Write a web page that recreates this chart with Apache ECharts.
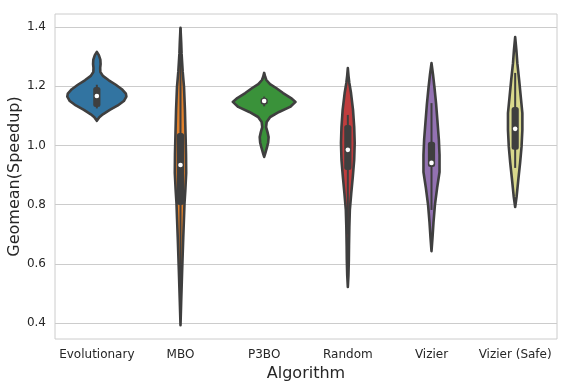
<!DOCTYPE html>
<html><head><meta charset="utf-8">
<script src="https://cdn.jsdelivr.net/npm/echarts@6/dist/echarts.min.js"></script>
<style>html,body{margin:0;padding:0;background:#fff}#c{width:570px;height:388px}</style>
</head><body><div id="c"></div>
<script>
const categories = ['Evolutionary', 'MBO', 'P3BO', 'Random', 'Vizier', 'Vizier (Safe)'];
const yTicks = [0.4, 0.6, 0.8, 1.0, 1.2, 1.4];

// Violin density profiles: [value, half-width as fraction of category band]
const evolutionaryViolin = [[1.316,0],[1.305,0.024],[1.290,0.042],[1.275,0.045],[1.262,0.040],[1.248,0.042],[1.235,0.072],[1.220,0.143],[1.205,0.227],[1.190,0.299],[1.175,0.347],[1.165,0.353],[1.150,0.323],[1.135,0.251],[1.120,0.155],[1.105,0.072],[1.095,0.030],[1.083,0]];
const mboViolin = [[1.397,0],[1.35,0.008],[1.31,0.013],[1.25,0.026],[1.197,0.042],[1.12,0.053],[1.04,0.060],[0.97,0.066],[0.907,0.068],[0.85,0.058],[0.805,0.048],[0.75,0.041],[0.69,0.033],[0.58,0.020],[0.47,0.008],[0.393,0]];
const p3boViolin = [[1.245,0],[1.232,0.012],[1.221,0.026],[1.207,0.070],[1.194,0.143],[1.177,0.226],[1.160,0.321],[1.147,0.375],[1.130,0.310],[1.113,0.178],[1.096,0.072],[1.079,0.030],[1.062,0.023],[1.045,0.040],[1.028,0.053],[1.010,0.048],[0.995,0.035],[0.974,0.014],[0.961,0]];
const randomViolin = [[1.261,0],[1.235,0.008],[1.211,0.018],[1.177,0.038],[1.120,0.062],[1.062,0.076],[1.008,0.082],[0.951,0.076],[0.893,0.059],[0.839,0.041],[0.782,0.024],[0.724,0.018],[0.660,0.014],[0.613,0.012],[0.560,0.007],[0.522,0]];
const vizierViolin = [[1.278,0],[1.240,0.018],[1.194,0.036],[1.140,0.055],[1.079,0.072],[1.020,0.088],[0.968,0.096],[0.910,0.096],[0.856,0.067],[0.799,0.041],[0.741,0.024],[0.688,0.012],[0.643,0]];
const vizierSafeViolin = [[1.366,0],[1.320,0.015],[1.278,0.026],[1.220,0.048],[1.164,0.067],[1.109,0.086],[1.052,0.086],[0.995,0.076],[0.941,0.059],[0.883,0.037],[0.826,0.017],[0.792,0]];

// Box statistics per algorithm
const medians = [1.167, 0.934, 1.150, 0.985, 0.941, 1.056];
const q1s = [1.130, 0.799, 1.138, 0.917, 0.927, 0.985];
const q3s = [1.197, 1.042, 1.160, 1.069, 1.012, 1.130];
const whiskerLow = [1.125, 0.435, 1.132, 0.700, 0.782, 0.924];
const whiskerHigh = [1.205, 1.397, 1.165, 1.103, 1.143, 1.245];

const violins = [evolutionaryViolin, mboViolin, p3boViolin, randomViolin, vizierViolin, vizierSafeViolin];
const palette = ['#3274a1', '#e1812c', '#3a923a', '#c03d3e', '#9372b2', '#d8d88c'];
const gray = '#3f3f3f';
const font = "'DejaVu Sans', sans-serif";

function renderViolin(params, api) {
  const i = params.dataIndex;
  const band = api.size([1, 0])[0];
  const right = [], left = [];
  violins[i].forEach(function (d) {
    const p = api.coord([i, d[0]]);
    right.push([p[0] + d[1] * band, p[1]]);
    left.push([p[0] - d[1] * band, p[1]]);
  });
  const pts = right.concat(left.reverse());
  const c = api.coord([i, medians[i]]);
  const top = api.coord([i, q3s[i]]);
  const bot = api.coord([i, q1s[i]]);
  const wt = api.coord([i, whiskerHigh[i]]);
  const wb = api.coord([i, whiskerLow[i]]);
  return {
    type: 'group',
    children: [
      { type: 'polygon', shape: { points: pts }, style: { fill: palette[i], stroke: gray, lineWidth: 2.6, lineJoin: 'round' } },
      { type: 'line', shape: { x1: c[0], y1: wt[1], x2: c[0], y2: wb[1] }, style: { stroke: gray, lineWidth: 2 } },
      { type: 'rect', shape: { x: c[0] - 3.6, y: top[1], width: 7.2, height: bot[1] - top[1], r: 2.5 }, style: { fill: gray } },
      { type: 'circle', shape: { cx: c[0], cy: c[1], r: 2.3 }, style: { fill: '#ffffff' } }
    ]
  };
}

const chart = echarts.init(document.getElementById('c'), null, { renderer: 'canvas' });
chart.setOption({
  animation: false,
  backgroundColor: '#ffffff',
  grid: { left: 55, right: 13, top: 14, bottom: 49, show: true, borderColor: '#cccccc', borderWidth: 1, backgroundColor: 'transparent', containLabel: false, outerBoundsMode: 'none' },
  xAxis: {
    type: 'category',
    data: categories,
    boundaryGap: true,
    axisLine: { show: false },
    axisTick: { show: false },
    splitLine: { show: false },
    axisLabel: { margin: 10, fontSize: 12, color: '#262626', fontFamily: font, interval: 0 },
    name: 'Algorithm',
    nameLocation: 'middle',
    nameGap: 27,
    nameTextStyle: { fontSize: 16, color: '#262626', fontFamily: font }
  },
  yAxis: {
    type: 'value',
    min: 0.346,
    max: 1.444,
    axisLine: { show: false },
    axisTick: { show: false, customValues: yTicks },
    axisLabel: { customValues: yTicks, margin: 9, fontSize: 12, color: '#262626', fontFamily: font, formatter: function (v) { return v.toFixed(1); } },
    splitLine: { show: true, lineStyle: { color: '#cccccc', width: 1 } },
    name: 'Geomean(Speedup)',
    nameLocation: 'middle',
    nameMoveOverlap: false,
    nameGap: 32,
    nameTextStyle: { fontSize: 16, color: '#262626', fontFamily: font }
  },
  series: [{
    type: 'custom',
    renderItem: renderViolin,
    data: categories.map(function (c, i) { return [i, medians[i]]; }),
    encode: { x: 0, y: 1 },
    clip: false
  }]
});
</script>
</body></html>
